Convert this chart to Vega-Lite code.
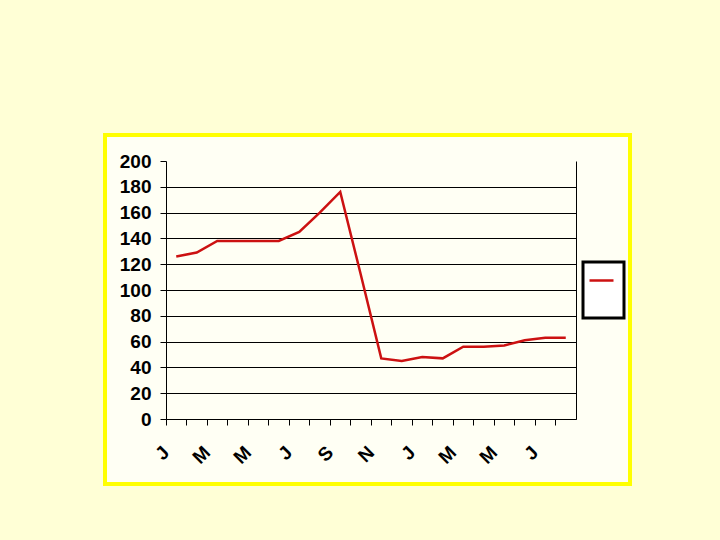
{
  "$schema": "https://vega.github.io/schema/vega-lite/v6.json",
  "width": 525,
  "height": 349,
  "autosize": {"type": "none"},
  "padding": {"left": 105, "top": 135, "right": 90, "bottom": 56},
  "background": "#FFFFD6",
  "config": {
    "view": {"stroke": "#FFFF00", "strokeWidth": 4, "fill": "#FFFFF4"},
    "font": "Liberation Sans"
  },
  "data": {
    "values": [
      {"month": "J1", "value": 126, "series": "s"},
      {"month": "F1", "value": 129, "series": "s"},
      {"month": "M1", "value": 138, "series": "s"},
      {"month": "A1", "value": 138, "series": "s"},
      {"month": "M2", "value": 138, "series": "s"},
      {"month": "J2", "value": 138, "series": "s"},
      {"month": "J3", "value": 145, "series": "s"},
      {"month": "A2", "value": 160, "series": "s"},
      {"month": "S1", "value": 176, "series": "s"},
      {"month": "O1", "value": 112, "series": "s"},
      {"month": "N1", "value": 47, "series": "s"},
      {"month": "D1", "value": 45, "series": "s"},
      {"month": "J4", "value": 48, "series": "s"},
      {"month": "F2", "value": 47, "series": "s"},
      {"month": "M3", "value": 56, "series": "s"},
      {"month": "A3", "value": 56, "series": "s"},
      {"month": "M4", "value": 57, "series": "s"},
      {"month": "J5", "value": 61, "series": "s"},
      {"month": "J6", "value": 63, "series": "s"},
      {"month": "A4", "value": 63, "series": "s"}
    ]
  },
  "encoding": {
    "x": {
      "field": "month",
      "type": "ordinal",
      "sort": null,
      "scale": {"type": "band", "range": [61, 471], "paddingInner": 0, "paddingOuter": 0},
      "axis": {
        "title": null,
        "orient": "bottom",
        "offset": -65,
        "bandPosition": 0,
        "domainColor": "black",
        "domainWidth": 1,
        "tickColor": "black",
        "tickSize": 6,
        "labelAngle": -45,
        "labelAlign": "right",
        "labelBaseline": "middle",
        "labelPadding": 24,
        "labelOffset": -10,
        "labelFontSize": 19,
        "labelFontWeight": "bold",
        "labelColor": "black",
        "labelExpr": "indexof(['J1','M1','M2','J3','S1','N1','J4','M3','M4','J6'], datum.value) >= 0 ? substring(datum.value, 0, 1) : ''"
      }
    }
  },
  "layer": [
    {
      "mark": {"type": "line", "strokeWidth": 2.5},
      "encoding": {
        "y": {
          "field": "value",
          "type": "quantitative",
          "scale": {"domain": [0, 200], "range": [284, 26], "nice": false, "zero": true},
          "axis": {
            "title": null,
            "orient": "left",
            "offset": -61,
            "values": [0, 20, 40, 60, 80, 100, 120, 140, 160, 180, 200],
            "grid": true,
            "gridColor": "black",
            "gridWidth": 1,
            "gridOpacity": {"condition": {"test": "datum.value === 200", "value": 0}, "value": 1},
            "domainColor": "black",
            "tickColor": "black",
            "tickSize": 6,
            "labelPadding": 9,
            "labelFontSize": 19,
            "labelFontWeight": "bold",
            "labelColor": "black"
          }
        },
        "color": {
          "field": "series",
          "type": "nominal",
          "scale": {"range": ["#CC1111"]},
          "legend": {
            "orient": "none",
            "legendX": 478,
            "legendY": 127,
            "title": " ",
            "titleOrient": "bottom",
            "titleFontSize": 15,
            "titlePadding": 12,
            "labelExpr": "''",
            "labelOffset": 0,
            "symbolType": "stroke",
            "symbolSize": 576,
            "symbolStrokeWidth": 2.5,
            "padding": 5,
            "strokeColor": "black",
            "fillColor": "white",
            "encode": {"legend": {"update": {"strokeWidth": {"value": 3}}}}
          }
        }
      }
    },
    {
      "mark": {"type": "line", "strokeOpacity": 0},
      "encoding": {
        "y": {
          "field": "value",
          "type": "quantitative",
          "axis": {
            "title": null,
            "orient": "right",
            "offset": -54,
            "labels": false,
            "ticks": false,
            "grid": false,
            "domainColor": "black"
          }
        }
      }
    }
  ],
  "resolve": {"axis": {"y": "independent"}}
}
